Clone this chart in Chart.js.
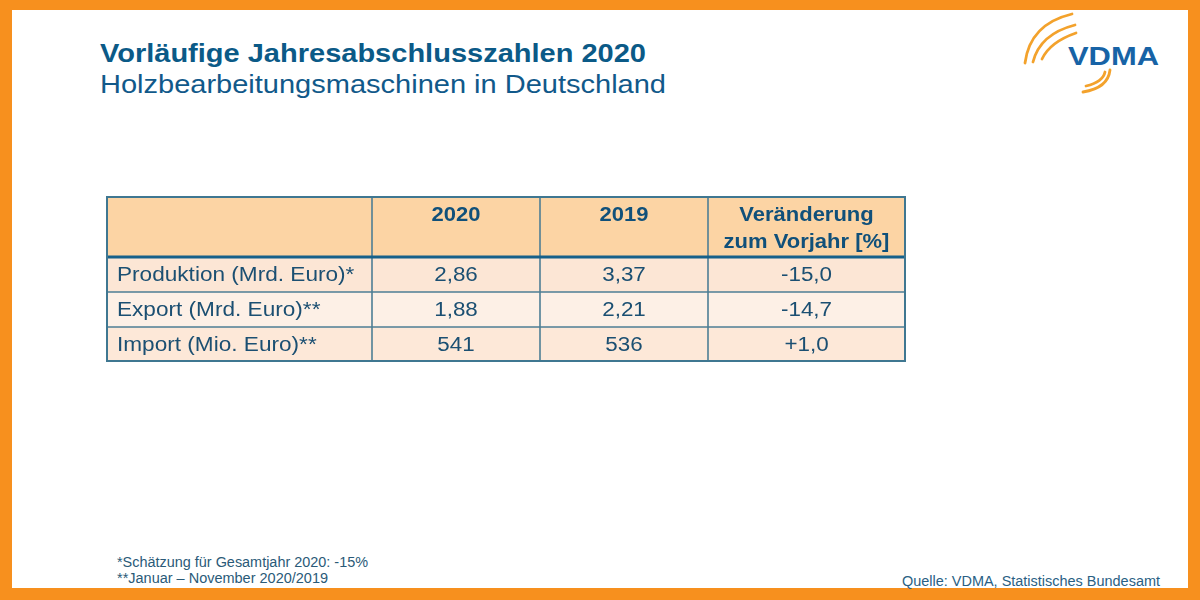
<!DOCTYPE html>
<html>
<head>
<meta charset="utf-8">
<script src="https://cdn.jsdelivr.net/npm/chart.js@4.4.1/dist/chart.umd.min.js"></script>
<style>
    html, body { margin: 0; padding: 0; }
    body {
        width: 1200px; height: 600px; position: relative; overflow: hidden;
        background: #f7901e;
        font-family: "Liberation Sans", Arial, sans-serif;
    }
    #sheet { position: absolute; left: 12px; top: 10px; width: 1176px; height: 578px; background: #fff; }
    #overlay { position: absolute; left: 0; top: 0; }
    #table-box { position: absolute; left: 105px; top: 195px; width: 802px; height: 168px; }
</style>
</head>
<body>
<div id="sheet"></div>

<svg id="overlay" width="1200" height="600" font-family="Liberation Sans, Arial, sans-serif">
    <!-- heading -->
    <text x="100" y="62" font-size="26.5" font-weight="bold" fill="#0b5a87"
          textLength="546" lengthAdjust="spacingAndGlyphs">Vorläufige Jahresabschlusszahlen 2020</text>
    <text x="100" y="93" font-size="25.5" fill="#11598a"
          textLength="566" lengthAdjust="spacingAndGlyphs">Holzbearbeitungsmaschinen in Deutschland</text>

    <!-- logo -->
    <g fill="none" stroke="#f3a22c" stroke-width="2.8" stroke-linecap="round">
        <path d="M1025 63 Q1030 24 1072 14"/>
        <path d="M1033 62 Q1040 34 1075 25"/>
        <path d="M1042 59 Q1050 42 1076 33"/>
        <path d="M1083 92 Q1108 88 1110 70"/>
        <path d="M1086 86 Q1103 82 1105 72"/>
    </g>
    <text x="1068" y="65" font-size="25" font-weight="bold" fill="#1763a6"
          textLength="91" lengthAdjust="spacingAndGlyphs">VDMA</text>

    <!-- footnotes -->
    <text x="117" y="567" font-size="14" fill="#2a5a78"
          textLength="251" lengthAdjust="spacingAndGlyphs">*Schätzung für Gesamtjahr 2020: -15%</text>
    <text x="117" y="583" font-size="14" fill="#2a5a78"
          textLength="211" lengthAdjust="spacingAndGlyphs">**Januar – November 2020/2019</text>
    <text x="902" y="586" font-size="14" fill="#2a5f84"
          textLength="258" lengthAdjust="spacingAndGlyphs">Quelle: VDMA, Statistisches Bundesamt</text>
</svg>

<div id="table-box"><canvas id="table-chart"></canvas></div>

<script>
// table content
const headerLabels = ['', '2020', '2019', 'Veränderung\nzum Vorjahr [%]'];
const rowLabels = ['Produktion (Mrd. Euro)*', 'Export (Mrd. Euro)**', 'Import (Mio. Euro)**'];
const values2020 = [2.86, 1.88, 541];
const values2019 = [3.37, 2.21, 536];
const changePct = [-15.0, -14.7, 1.0];
const rowDecimals = [2, 2, 0];

// layout (relative units used on the chart scales)
const colSpans = [265, 168, 168, 197];
const rowSpans = [60, 35, 35, 34];
const rowFills = ['#fce6d5', '#fdf0e6', '#fde8d8'];

const sum = arr => arr.reduce((a, b) => a + b, 0);
const starts = arr => arr.map((v, i) => sum(arr.slice(0, i)));

function fmt(v, dec, signed) {
    let s = v.toLocaleString('de-DE', { minimumFractionDigits: dec, maximumFractionDigits: dec });
    if (signed && v > 0) s = '+' + s;
    return s;
}

function drawText(ctx, text, x, y, align, font, color, sx) {
    ctx.save();
    ctx.translate(x, y);
    ctx.scale(sx, 1);
    ctx.font = font;
    ctx.fillStyle = color;
    ctx.textAlign = align;
    ctx.textBaseline = 'middle';
    ctx.fillText(text, 0, 0);
    ctx.restore();
}

const tablePlugin = {
    id: 'tableCells',
    afterDraw(chart) {
        const ctx = chart.ctx;
        const xs = chart.scales.x;
        const ys = chart.scales.y;
        const cx = starts(colSpans);
        const cy = starts(rowSpans);
        const colEdge = i => xs.getPixelForValue(i < colSpans.length ? cx[i] : sum(colSpans));
        const rowEdge = i => ys.getPixelForValue(i < rowSpans.length ? cy[i] : sum(rowSpans));

        const left = colEdge(0), right = colEdge(colSpans.length);
        const top = rowEdge(0), bottom = rowEdge(rowSpans.length);

        // backgrounds
        ctx.fillStyle = '#fcd4a4';
        ctx.fillRect(left, top, right - left, rowEdge(1) - top);
        for (let r = 0; r < rowLabels.length; r++) {
            ctx.fillStyle = rowFills[r];
            ctx.fillRect(left, rowEdge(r + 1), right - left, rowEdge(r + 2) - rowEdge(r + 1));
        }

        // grid lines
        ctx.strokeStyle = '#4d7e95';
        ctx.lineWidth = 1.6;
        for (let c = 1; c < colSpans.length; c++) {
            ctx.beginPath();
            ctx.moveTo(colEdge(c), top);
            ctx.lineTo(colEdge(c), bottom);
            ctx.stroke();
        }
        for (let r = 2; r < rowSpans.length; r++) {
            ctx.beginPath();
            ctx.moveTo(left, rowEdge(r));
            ctx.lineTo(right, rowEdge(r));
            ctx.stroke();
        }
        ctx.strokeStyle = '#15608a';
        ctx.lineWidth = 3;
        ctx.beginPath();
        ctx.moveTo(left, rowEdge(1));
        ctx.lineTo(right, rowEdge(1));
        ctx.stroke();
        ctx.strokeStyle = '#3f7791';
        ctx.lineWidth = 2;
        ctx.strokeRect(left, top, right - left, bottom - top);

        // header text
        const headFont = 'bold 20px "Liberation Sans", Arial, sans-serif';
        headerLabels.forEach((lab, c) => {
            if (!lab) return;
            const mid = (colEdge(c) + colEdge(c + 1)) / 2;
            lab.split('\n').forEach((line, k) => {
                drawText(ctx, line, mid, top + 18 + k * 27, 'center', headFont, '#10507a', 1.1);
            });
        });

        // body text
        const bodyFont = '20px "Liberation Sans", Arial, sans-serif';
        const color = '#1b4f72';
        rowLabels.forEach((lab, r) => {
            const yMid = (rowEdge(r + 1) + rowEdge(r + 2)) / 2 + 1;
            const cells = [
                fmt(values2020[r], rowDecimals[r]),
                fmt(values2019[r], rowDecimals[r]),
                fmt(changePct[r], 1, true)
            ];
            drawText(ctx, lab, left + 10, yMid, 'left', bodyFont, color, 1.13);
            cells.forEach((txt, i) => {
                const mid = (colEdge(i + 1) + colEdge(i + 2)) / 2;
                drawText(ctx, txt, mid, yMid, 'center', bodyFont, color, 1.12);
            });
        });
    }
};

new Chart(document.getElementById('table-chart'), {
    type: 'scatter',
    data: { datasets: [] },
    options: {
        responsive: true,
        maintainAspectRatio: false,
        animation: false,
        layout: { padding: 2 },
        scales: {
            x: { type: 'linear', min: 0, max: sum(colSpans), display: false },
            y: { type: 'linear', min: 0, max: sum(rowSpans), reverse: true, display: false }
        },
        plugins: { legend: { display: false }, tooltip: { enabled: false } }
    },
    plugins: [tablePlugin]
});
</script>
</body>
</html>
